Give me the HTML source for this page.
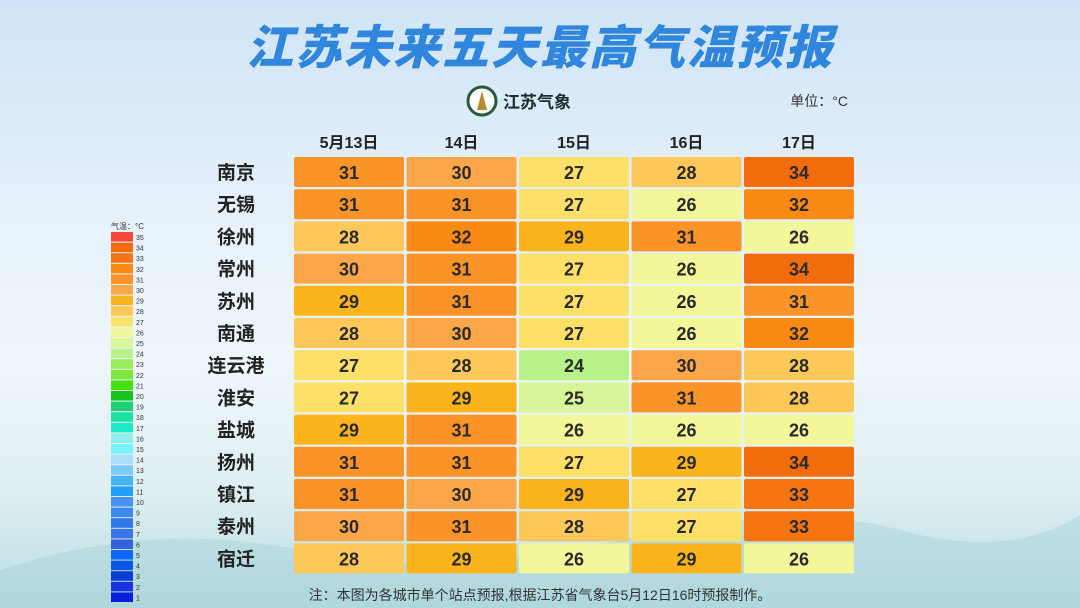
<!DOCTYPE html>
<html><head><meta charset="utf-8">
<style>
body{margin:0;width:1080px;height:608px;overflow:hidden;font-family:"Liberation Sans","Noto Sans CJK SC",sans-serif;}
#bg{position:absolute;left:0;top:0;width:1080px;height:608px;background:linear-gradient(180deg,#cfe4f6 0%,#e6f1fa 35%,#eef6fb 60%,#dfeff2 80%,#b9dde0 100%);}
</style></head><body>
<div id="bg"></div>
<svg id="c" width="1080" height="608" style="position:absolute;left:0;top:0">
<path d="M0,570 Q150,520 300,550 T620,540 T900,530 T1080,515 L1080,608 L0,608Z" fill="#9fcfd6" opacity="0.4"/>
<text x="540" y="64" text-anchor="middle" font-size="47" font-weight="900" fill="#2f86dc" font-style="italic" letter-spacing="2" font-family="Liberation Sans, Noto Sans CJK SC, sans-serif">江苏未来五天最高气温预报</text>
<g>
<circle cx="482" cy="101" r="14" fill="#fff" stroke="#2a5a3a" stroke-width="3"/>
<path d="M477,110 L482,91 L487,110Z" fill="#b58c2a"/>
<text x="503" y="108" font-size="17" font-weight="bold" fill="#1d2d2a" font-family="Liberation Sans, Noto Sans CJK SC, sans-serif">江苏气象</text>
</g>
<text x="848" y="106" text-anchor="end" font-size="14" fill="#333" font-family="Liberation Sans, Noto Sans CJK SC, sans-serif">单位：°C</text>
<text x="540" y="600" text-anchor="middle" font-size="14" fill="#333" font-family="Liberation Sans, Noto Sans CJK SC, sans-serif">注：本图为各城市单个站点预报,根据江苏省气象台5月12日16时预报制作。</text>
<g id="grid"></g><g id="legend"></g>
</svg>
<script>
const days=["5月13日","14日","15日","16日","17日"];
const cities=["南京","无锡","徐州","常州","苏州","南通","连云港","淮安","盐城","扬州","镇江","泰州","宿迁"];
const temps=[
[31,30,27,28,34],[31,31,27,26,32],[28,32,29,31,26],[30,31,27,26,34],[29,31,27,26,31],
[28,30,27,26,32],[27,28,24,30,28],[27,29,25,31,28],[29,31,26,26,26],[31,31,27,29,34],
[31,30,29,27,33],[30,31,28,27,33],[28,29,26,29,26]];
const legendVals=[35,34,33,32,31,30,29,28,27,26,25,24,23,22,21,20,19,18,17,16,15,14,13,12,11,10,9,8,7,6,5,4,3,2,1];
const pal={35:"#f5483a",34:"#f26c0c",33:"#f77410",32:"#fa8a14",31:"#fb9428",30:"#fca64a",29:"#fbb41c",28:"#fcc85a",27:"#fde068",26:"#f2f79a",25:"#d8f59a",24:"#b8f08a",23:"#98ee5a",22:"#7ee83a",21:"#44e010",20:"#14c41a",19:"#1ecf78",18:"#1ee0a0",17:"#1ee8c8",16:"#8ef0e8",15:"#7af2fa",14:"#a8e0fa",13:"#7ccaf5",12:"#44b6f5",11:"#22a0f5",10:"#4a92f2",9:"#3c8af0",8:"#2e78e8",7:"#3a74ea",6:"#3462da",5:"#0f68f5",4:"#0a58e0",3:"#0a3ed2",2:"#1a32e0",1:"#0a20d8"};
const NS="http://www.w3.org/2000/svg";
function mk(t,a,p){const e=document.createElementNS(NS,t);for(const k in a)e.setAttribute(k,a[k]);p.appendChild(e);return e;}
const x0=294,pitchX=112.5,cw=110,y0=157,pitchY=32.2,ch=30;
const xPos=i=>x0+i*pitchX, yPos=j=>y0+j*pitchY;
const g=document.getElementById('grid');
const F="Liberation Sans, Noto Sans CJK SC, sans-serif";
days.forEach((d,i)=>{const t=mk('text',{x:xPos(i)+cw/2,y:148,'text-anchor':'middle','font-size':16,'font-weight':'bold',fill:'#222','font-family':F},g);t.textContent=d;

});
cities.forEach((c,j)=>{const t=mk('text',{x:236,y:yPos(j)+ch/2+7,'text-anchor':'middle','font-size':19,'font-weight':'bold',fill:'#222','font-family':F},g);t.textContent=c;


temps[j].forEach((v,i)=>{const r=mk('rect',{x:xPos(i),y:yPos(j),width:cw,height:ch,rx:2,fill:pal[v]},g);


const tt=mk('text',{x:xPos(i)+cw/2,y:yPos(j)+ch/2+7,'text-anchor':'middle','font-size':18,'font-weight':'bold',fill:'#2a2a2a','font-family':F},g);tt.textContent=v;

});});
const L=document.getElementById('legend');
const lt=mk('text',{x:111,y:229,'font-size':8,fill:'#333','font-family':F},L);lt.textContent="气温：°C";


legendVals.forEach((v,k)=>{const y=232+k*10.6;
const r=mk('rect',{x:111,y:y,width:22,height:9.6,fill:pal[v]},L);


const t=mk('text',{x:136,y:y+8,'font-size':7,fill:'#333','font-family':F},L);t.textContent=v;

});
</script>
</body></html>
